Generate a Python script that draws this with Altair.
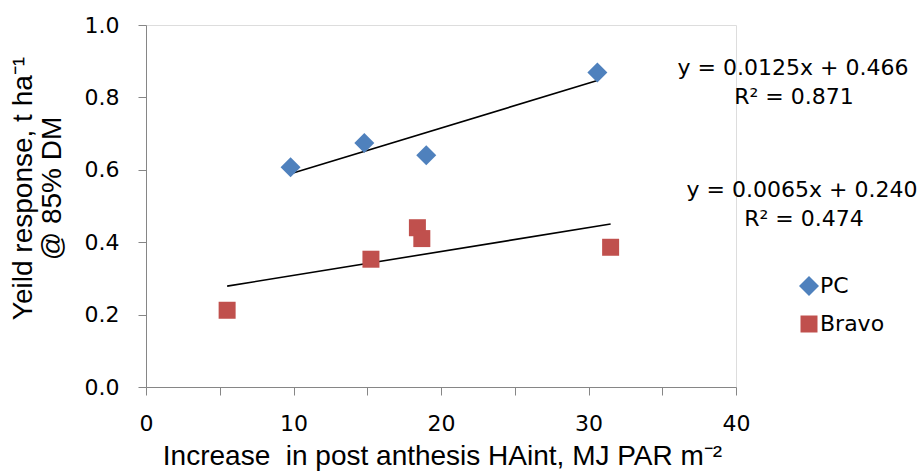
import altair as alt
import pandas as pd

# ---- data ----
pc_x = [9.8, 14.8, 19.0, 30.6]
pc_y = [0.607, 0.674, 0.640, 0.869]
bravo_x = [5.5, 15.25, 18.4, 18.7, 31.5]
bravo_y = [0.212, 0.353, 0.440, 0.410, 0.386]
series = ["PC", "Bravo"]
colors = ["#4F81BD", "#C0504D"]
shapes = ["diamond", "square"]
x_ticks = [0, 5, 10, 15, 20, 25, 30, 35, 40]
y_ticks = [0.0, 0.1, 0.2, 0.3, 0.4, 0.5, 0.6, 0.7, 0.8, 0.9, 1.0]
eq_pc = ["y = 0.0125x + 0.466", "R² = 0.871"]
eq_bravo = ["y = 0.0065x + 0.240", "R² = 0.474"]

df = pd.DataFrame({
    "x": pc_x + bravo_x,
    "y": pc_y + bravo_y,
    "s": ["PC"] * len(pc_x) + ["Bravo"] * len(bravo_x),
})

FONT = "DejaVu Sans"
TFONT = "Liberation Sans"
FS = 22
TFS = 28
AX = "#868686"

xscale = alt.Scale(domain=[0, 40], nice=False, zero=False)
yscale = alt.Scale(domain=[0, 1], nice=False, zero=False)

xaxis = alt.Axis(
    values=x_ticks, labelExpr="datum.value % 10 == 0 ? datum.label : ''",
    grid=False, domainColor=AX, tickColor=AX, tickSize=8, labelFontSize=FS,
    labelFont=FONT, labelColor="black", labelPadding=18, labelFlush=False,
    labelOverlap=False, title="Increase\u00a0 in post anthesis HAint, MJ PAR m⁻²",
    titleFont=TFONT, titleFontSize=TFS, titleFontWeight="normal", titleColor="black",
    titleX=296, titleY=77, titleBaseline="alphabetic", titleAlign="center",
)
yaxis = alt.Axis(
    values=y_ticks,
    labelExpr="round(datum.value*10) % 2 == 0 ? format(datum.value, '.1f') : ''",
    grid=False, domainColor=AX, tickColor=AX, tickSize=8, labelFontSize=FS,
    labelFont=FONT, labelColor="black", labelPadding=19, labelFlush=False,
    labelOverlap=False, title=["Yeild response, t ha⁻¹", "@ 85% DM"],
    titleFont=TFONT, titleFontSize=TFS, titleFontWeight="normal", titleColor="black",
    titleX=-123, titleY=163, titleAngle=-90, titleAlign="center",
    titleBaseline="middle", titleLineHeight=29,
)

base = alt.Chart(df)

lines = base.transform_regression("x", "y", groupby=["s"]).mark_line(
    color="black", strokeWidth=1.6
).encode(
    x=alt.X("x:Q", scale=xscale, axis=xaxis),
    y=alt.Y("y:Q", scale=yscale, axis=yaxis),
    detail="s:N",
)

points = base.mark_point(filled=True, opacity=1).encode(
    x=alt.X("x:Q", scale=xscale),
    y=alt.Y("y:Q", scale=yscale),
    color=alt.Color("s:N", scale=alt.Scale(domain=series, range=colors),
                    legend=alt.Legend(title=None, orient="none", legendX=652,
                                      legendY=250, labelFontSize=FS, labelFont=FONT,
                                      labelColor="black", symbolSize=240,
                                      rowPadding=16, labelOffset=0, padding=0,
                                      symbolStrokeWidth=0)),
    shape=alt.Shape("s:N", scale=alt.Scale(domain=series, range=shapes)),
    size=alt.Size("s:N", scale=alt.Scale(domain=series, range=[400, 289]), legend=None),
)


def label(txt, px, py):
    return alt.Chart(alt.Data(values=[{"t": txt}])).mark_text(
        font=FONT, fontSize=FS, color="black", align="center", baseline="middle"
    ).encode(text="t:N", x=alt.value(px), y=alt.value(py))


texts = [
    label(eq_pc[0], 647, 43),
    label(eq_pc[1], 648, 72),
    label(eq_bravo[0], 656, 165),
    label(eq_bravo[1], 658, 194),
]

chart = alt.layer(lines, points, *texts).properties(
    width=590, height=362,
    autosize=alt.AutoSizeParams(type="none"),
    padding={"left": 146, "top": 25, "right": 186, "bottom": 85},
).configure_view(stroke=None).configure(background="white")

chart.save("out.html", embed_options={"renderer": "svg", "actions": False})
